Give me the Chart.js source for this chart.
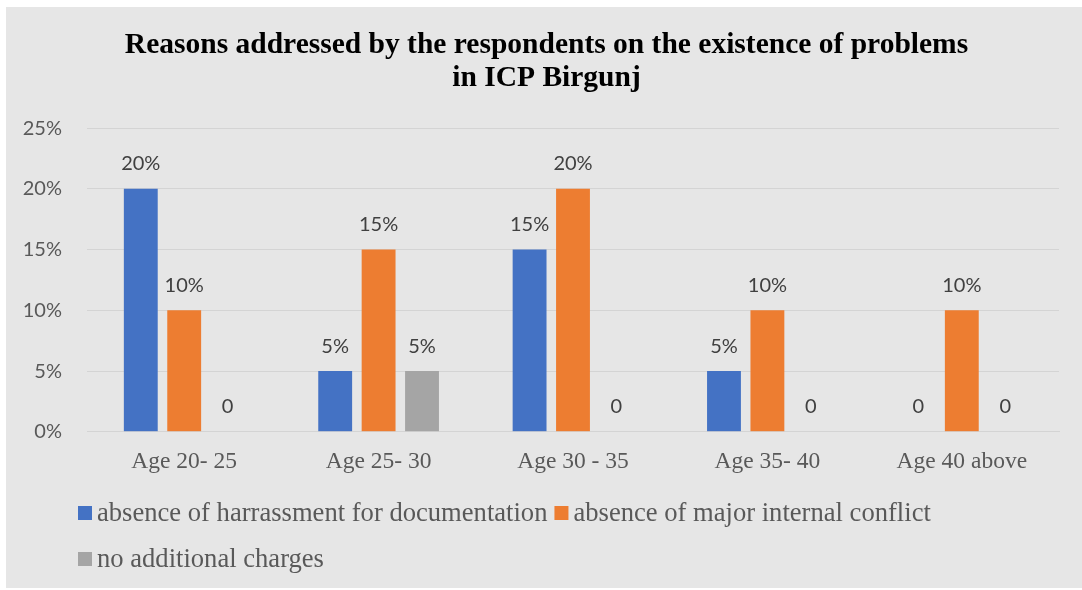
<!DOCTYPE html>
<html>
<head>
<meta charset="utf-8">
<script src="https://cdn.jsdelivr.net/npm/chart.js@4.4.1/dist/chart.umd.min.js"></script>
<style>
  html, body { margin: 0; padding: 0; background: #ffffff; }
  #wrap { position: absolute; left: 6px; top: 7px; width: 1076px; height: 581px; background: #e6e6e6; }
  canvas { display: block; }
</style>
</head>
<body>
<div id="wrap"><canvas id="chart" width="1076" height="581"></canvas></div>
<script>
// Survey data: share of respondents per age group
const titleLines = ['Reasons addressed by the respondents on the existence of problems', 'in ICP Birgunj'];
const categories = ['Age 20- 25', 'Age 25- 30', 'Age 30 - 35', 'Age 35- 40', 'Age 40 above'];
const seriesNames = ['absence of harrassment for documentation', 'absence of major internal conflict', 'no additional charges'];
const harassmentValues = [0.20, 0.05, 0.15, 0.05, 0];
const conflictValues = [0.10, 0.15, 0.20, 0.10, 0.10];
const chargesValues = [0, 0.05, 0, 0, 0];
const seriesColors = ['#4472c4', '#ed7d31', '#a5a5a5'];
const yMin = 0, yMax = 0.25, yStep = 0.05;

const pct = v => Math.round(v * 100) + '%';

// Value labels above each bar ("0" for empty bars)
const valueLabels = {
  id: 'valueLabels',
  afterDatasetsDraw(chart) {
    const ctx = chart.ctx;
    ctx.save();
    ctx.font = '20px Lato';
    ctx.fillStyle = '#404040';
    ctx.textAlign = 'center';
    ctx.textBaseline = 'middle';
    chart.data.datasets.forEach((ds, i) => {
      chart.getDatasetMeta(i).data.forEach((bar, j) => {
        const v = ds.data[j];
        ctx.fillText(v === 0 ? '0' : pct(v), bar.x, bar.y - 25);
      });
    });
    ctx.restore();
  }
};

// Legend under the axis, left aligned, wrapping into rows
const bottomLegend = {
  id: 'bottomLegend',
  afterDraw(chart) {
    const ctx = chart.ctx;
    ctx.save();
    ctx.font = '26.6px "Liberation Serif"';
    ctx.textBaseline = 'middle';
    const startX = 72, rows = [506, 552], box = 14, gap = 5, itemGap = 7, maxX = chart.width - 10;
    let x = startX, row = 0;
    chart.data.datasets.forEach((ds) => {
      const w = box + gap + ctx.measureText(ds.label).width;
      if (x > startX && x + w > maxX) { row++; x = startX; }
      const y = rows[row];
      ctx.fillStyle = ds.backgroundColor;
      ctx.fillRect(x, y - box / 2, box, box);
      ctx.fillStyle = '#595959';
      ctx.fillText(ds.label, x + box + gap, y + 1);
      x += w + itemGap;
    });
    ctx.restore();
  }
};

const valueSeries = [harassmentValues, conflictValues, chargesValues];

new Chart(document.getElementById('chart'), {
  type: 'bar',
  data: {
    labels: categories,
    datasets: seriesNames.map((name, i) => ({
      label: name,
      data: valueSeries[i],
      backgroundColor: seriesColors[i],
      borderWidth: 0,
      categoryPercentage: 0.67,
      barPercentage: 0.78
    }))
  },
  options: {
    responsive: false,
    animation: false,
    layout: { padding: { left: 5, right: 0, top: 0, bottom: 96 } },
    plugins: {
      legend: { display: false },
      tooltip: { enabled: false },
      title: {
        display: true,
        text: titleLines,
        color: '#000000',
        font: { family: '"Liberation Serif"', size: 29.5, weight: 'bold', lineHeight: 1.12 },
        padding: { top: 22, bottom: 33 }
      }
    },
    scales: {
      x: {
        grid: { display: false, drawTicks: false },
        border: { display: true, color: '#d4d4d4', width: 1 },
        ticks: { color: '#595959', font: { family: '"Liberation Serif"', size: 23.5 }, padding: 16, maxRotation: 0 },
        afterFit(scale) { scale.paddingLeft = 0; scale.paddingRight = 0; }
      },
      y: {
        min: yMin, max: yMax,
        grid: { color: '#d4d4d4', lineWidth: 1, drawTicks: false },
        border: { display: false },
        ticks: {
          stepSize: yStep,
          color: '#595959',
          font: { family: 'Lato', size: 20 },
          padding: 25,
          callback: v => pct(v)
        },
        afterFit(scale) { scale.width = 76; }
      },
      // empty right margin strip beside the plot
      yRightMargin: {
        type: 'linear',
        position: 'right',
        display: true,
        grid: { display: false, drawTicks: false },
        border: { display: false },
        ticks: { display: false },
        afterFit(scale) { scale.width = 23; }
      }
    }
  },
  plugins: [valueLabels, bottomLegend]
});
</script>
</body>
</html>
